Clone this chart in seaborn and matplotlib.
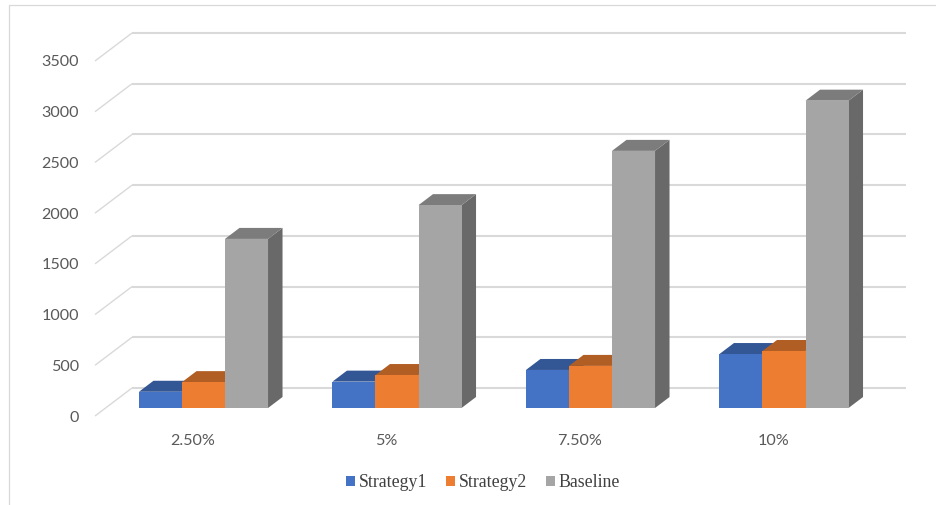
import matplotlib
matplotlib.use("Agg")
import matplotlib.pyplot as plt
import pandas as pd
import seaborn as sns
from matplotlib.lines import Line2D
from matplotlib.patches import Polygon
from matplotlib.transforms import ScaledTranslation

# Chart values
categories = ["2.50%", "5%", "7.50%", "10%"]
strategy1 = [160, 260, 375, 532]
strategy2 = [255, 325, 415, 562]
baseline = [1667, 2000, 2535, 3030]
series_names = ["Strategy1", "Strategy2", "Baseline"]
y_ticks = [0, 500, 1000, 1500, 2000, 2500, 3000, 3500]

# Face colours for each series: front, top, side
front_colors = ["#4472C4", "#ED7D31", "#A5A5A5"]
top_colors = ["#335694", "#B15E24", "#7C7C7C"]
side_colors = ["#2F5088", "#A35620", "#696969"]
GRID = "#D9D9D9"
TEXT = "#595959"

W, H = 937, 505
sns.set_theme(style="white")
plt.rcParams["font.family"] = ["Lato", "DejaVu Sans"]

fig = plt.figure(figsize=(W / 100, H / 100), dpi=100)
# Plot box in pixels: left 106.75, right 880.75, baseline 408, top 53
ax = fig.add_axes([106.75 / W, (H - 408) / H, 774 / W, 355 / H])

frame = pd.DataFrame({
    "category": categories * 3,
    "series": [s for s in series_names for _ in categories],
    "value": strategy1 + strategy2 + baseline,
})
sns.barplot(
    data=frame, x="category", y="value", hue="series", order=categories,
    hue_order=series_names, palette=front_colors, width=0.667, gap=0,
    saturation=1, ax=ax, zorder=5, linewidth=0,
)
ax.set_xlim(-0.5, 3.5)
ax.set_ylim(0, 3500)
ax.set_xlabel("")
ax.set_ylabel("")
sns.despine(ax=ax, left=True, bottom=True)

# Pixel sizes of one data unit on each axis, for the pseudo-3D depth
px_x = 774 / 4
px_y = 355 / 3500


def depth(dx_px, dy_px):
    return dx_px / px_x, dy_px / px_y


# Floor and wall gridlines: front edge, back edge, then along the back wall
fx, fy = depth(-11.75, -8)
bx, by = depth(25.25, 20)
for v in y_ticks:
    ax.plot([-0.5 + fx, -0.5 + bx], [v + fy, v + by], color=GRID, lw=1.0,
            clip_on=False, zorder=1, solid_capstyle="butt")
    ax.plot([-0.5 + bx, 3.5 + bx], [v + by, v + by], color=GRID, lw=1.5,
            clip_on=False, zorder=1, solid_capstyle="butt")

# Extrude every bar: tops and sides sit behind all of the front faces
bx_d, by_d = depth(14.5, 11)
n_cat = len(categories)
rects = [r for c in ax.containers for r in c]
for i, r in enumerate(rects):
    s = i // n_cat
    x0, x1, h = r.get_x(), r.get_x() + r.get_width(), r.get_height()
    ax.add_patch(Polygon(
        [(x1, 0), (x1 + bx_d, by_d), (x1 + bx_d, h + by_d), (x1, h)],
        closed=True, fc=side_colors[s], ec="none", clip_on=False, zorder=2 + s * 0.1))
    ax.add_patch(Polygon(
        [(x0, h), (x0 + bx_d, h + by_d), (x1 + bx_d, h + by_d), (x1, h)],
        closed=True, fc=top_colors[s], ec="none", clip_on=False, zorder=2 + s * 0.1))
    r.set_clip_on(False)

# Tick labels follow the front edge of the floor
ax.set_yticks(y_ticks)
ax.set_yticklabels([str(v) for v in y_ticks])
ax.set_xticks(range(n_cat))
ax.set_xticklabels(categories)
ax.tick_params(axis="both", length=0, labelsize=11.6, labelcolor=TEXT)
ax.tick_params(axis="y", pad=20)
ax.tick_params(axis="x", pad=18.5)
y_shift = ScaledTranslation(0, -8 / 100, fig.dpi_scale_trans)
x_shift = ScaledTranslation(-10.5 / 100, 0, fig.dpi_scale_trans)
for lab in ax.get_yticklabels():
    lab.set_transform(lab.get_transform() + y_shift)
for lab in ax.get_xticklabels():
    lab.set_transform(lab.get_transform() + x_shift)

# Legend in a serif face along the bottom
handles, labels = ax.get_legend_handles_labels()
ax.legend(
    handles, labels, loc="center", bbox_to_anchor=(483 / W, (H - 482.5) / H),
    bbox_transform=fig.transFigure, ncol=3, frameon=False, handlelength=0.5,
    handleheight=0.5, handletextpad=0.22, columnspacing=1.05,
    prop={"family": "Liberation Serif", "size": 12.8}, labelcolor="#404040",
)

# Outer chart border: only its top and left edges fall inside the canvas
fig.add_artist(Line2D([9.2 / W, 9.2 / W], [0, (H - 5) / H], color=GRID, lw=0.9))
fig.add_artist(Line2D([9.2 / W, 1], [(H - 5) / H, (H - 5) / H], color=GRID, lw=0.9))

fig.savefig("out.png", dpi=100, facecolor="white")
